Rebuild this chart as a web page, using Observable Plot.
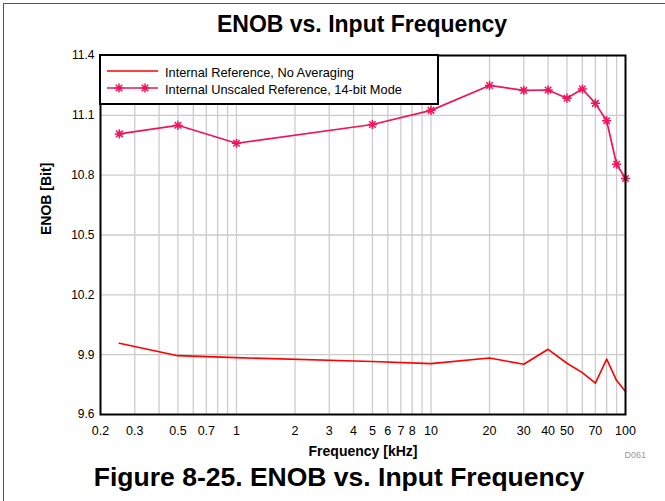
<!DOCTYPE html>
<html>
<head>
<meta charset="utf-8">
<script src="https://cdn.jsdelivr.net/npm/d3@7"></script>
<script src="https://cdn.jsdelivr.net/npm/@observablehq/plot@0.6"></script>
<style>
  html, body { margin: 0; padding: 0; background: #fff; }
  #wrap { position: relative; width: 665px; height: 501px; overflow: hidden; font-family: 'Liberation Sans', Arial, Helvetica, sans-serif; }
  #outer { position: absolute; left: 3px; top: 3px; width: 700px; height: 600px; border-left: 1.5px solid #555; border-top: 1.5px solid #555; }
  #title { position: absolute; left: 0; width: 724px; top: 13px; text-align: center; font-weight: bold; font-size: 23px; line-height: 23px; color: #000; }
  #caption { position: absolute; left: 0; width: 678px; top: 464px; text-align: center; font-weight: bold; font-size: 26.5px; line-height: 26.5px; color: #000; }
  #code { position: absolute; right: 19px; top: 451px; font-size: 9px; line-height: 9px; color: #999; }
  #chart { position: absolute; left: 0; top: 0; }
  #legend { position: absolute; left: 99px; top: 54px; }
</style>
</head>
<body>
<div id="wrap">
  <div id="outer"></div>
  <div id="chart"></div>
  <div id="title">ENOB vs. Input Frequency</div>
  <div id="caption">Figure 8-25. ENOB vs. Input Frequency</div>
  <div id="code">D061</div>
  <div id="legend"></div>
</div>
<script>
// ---- data ----
const freqKHz = [0.25, 0.5, 1, 5, 10, 20, 30, 40, 50, 60, 70, 80, 90, 100];
const enobNoAveraging = [9.957, 9.895, 9.885, 9.866, 9.855, 9.883, 9.852, 9.927, 9.857, 9.81, 9.757, 9.878, 9.77, 9.715];
const enobUnscaled14 = [11.007, 11.05, 10.96, 11.054, 11.125, 11.25, 11.225, 11.227, 11.186, 11.232, 11.16, 11.073, 10.855, 10.783];
const seriesNames = ["Internal Reference, No Averaging", "Internal Unscaled Reference, 14-bit Mode"];
const seriesColors = ["#ff0000", "#f0145a"];
const xTickLabels = [0.2, 0.3, 0.5, 0.7, 1, 2, 3, 4, 5, 6, 7, 8, 10, 20, 30, 40, 50, 70, 100];
const xGridLines = [0.3, 0.4, 0.5, 0.6, 0.7, 0.8, 0.9, 1, 2, 3, 4, 5, 6, 7, 8, 9, 10, 20, 30, 40, 50, 60, 70, 80, 90];
const yTicks = [9.6, 9.9, 10.2, 10.5, 10.8, 11.1, 11.4];
const yGridLines = [9.9, 10.2, 10.5, 10.8, 11.1];

const noAvg = freqKHz.map((f, i) => ({f, v: enobNoAveraging[i]}));
const unscaled = freqKHz.map((f, i) => ({f, v: enobUnscaled14[i]}));

// asterisk-like marker
const star = {
  draw(ctx, size) {
    const r = Math.sqrt(size / Math.PI);
    const d = r * Math.SQRT1_2;
    ctx.moveTo(0, -r); ctx.lineTo(0, r);
    ctx.moveTo(-r, 0); ctx.lineTo(r, 0);
    ctx.moveTo(-d, -d); ctx.lineTo(d, d);
    ctx.moveTo(-d, d); ctx.lineTo(d, -d);
  }
};

const plot = Plot.plot({
  width: 665,
  height: 470,
  marginLeft: 100,
  marginRight: 40,
  marginTop: 55,
  marginBottom: 56,
  style: {fontFamily: "'Liberation Sans', Arial, Helvetica, sans-serif", fontSize: "12px", color: "#000", background: "transparent"},
  x: {type: "log", domain: [0.2, 100], axis: null},
  y: {domain: [9.6, 11.4]},
  marks: [
    Plot.ruleX(xGridLines, {x: d => d, stroke: "#cccccc", strokeWidth: 1.3}),
    Plot.ruleY(yGridLines, {y: d => d, stroke: "#cccccc", strokeWidth: 1.3}),
    Plot.text(xTickLabels, {x: d => d, text: d => String(d), frameAnchor: "bottom", lineAnchor: "top", dy: 12, fontSize: 12.5}),
    Plot.axisY(yTicks, {tickSize: 0, tickPadding: 6, tickFormat: d => d.toFixed(1), fontSize: 12, label: null}),
    Plot.line(noAvg, {x: "f", y: "v", stroke: seriesColors[0], strokeWidth: 1.6}),
    Plot.line(unscaled, {x: "f", y: "v", stroke: seriesColors[1], strokeWidth: 1.7}),
    Plot.dot(unscaled, {x: "f", y: "v", symbol: star, r: 4.6, stroke: seriesColors[1], strokeWidth: 1.5, fill: "none"}),
    Plot.frame({stroke: "#000", strokeWidth: 2}),
    Plot.text(["Frequency [kHz]"], {text: d => d, frameAnchor: "bottom", lineAnchor: "middle", dy: 37, fontWeight: "bold", fontSize: 14}),
    Plot.text(["ENOB [Bit]"], {text: d => d, frameAnchor: "left", rotate: -90, dx: -54, lineAnchor: "middle", fontWeight: "bold", fontSize: 14})
  ]
});
document.getElementById("chart").appendChild(plot);

// legend
const ns = "http://www.w3.org/2000/svg";
const lg = document.createElementNS(ns, "svg");
lg.setAttribute("width", 341); lg.setAttribute("height", 52);
lg.style.fontFamily = "'Liberation Sans', Arial, Helvetica, sans-serif";
function el(name, attrs, parent) {
  const e = document.createElementNS(ns, name);
  for (const k in attrs) e.setAttribute(k, attrs[k]);
  parent.appendChild(e); return e;
}
el("rect", {x: 1, y: 1, width: 338, height: 49, fill: "#fff", stroke: "#000", "stroke-width": 2}, lg);
const rows = [17, 34];
seriesNames.forEach((name, i) => {
  const y = rows[i];
  el("line", {x1: 8, x2: 59, y1: y, y2: y, stroke: seriesColors[i], "stroke-width": 1.6}, lg);
  if (i === 1) {
    const sym = d3.symbol(star, 4.6 * 4.6 * Math.PI)();
    [20, 46].forEach(cx => el("path", {d: sym, transform: `translate(${cx},${y})`, stroke: seriesColors[i], "stroke-width": 1.5, fill: "none"}, lg));
  }
  const t = el("text", {x: 66, y: y + 1.8, "dominant-baseline": "central", "font-size": 12.8, fill: "#000"}, lg);
  t.textContent = name;
});
document.getElementById("legend").appendChild(lg);
</script>
</body>
</html>
